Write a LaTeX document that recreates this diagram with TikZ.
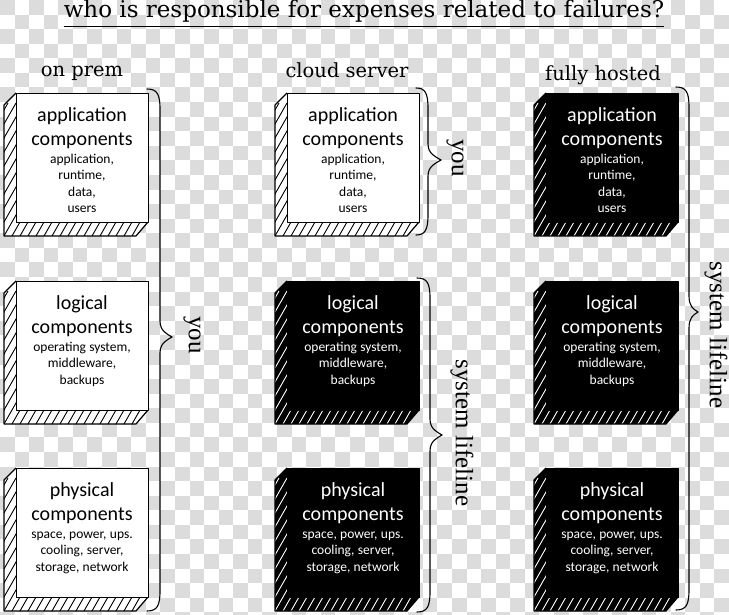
\documentclass[tikz,border=0pt]{standalone}
\usepackage{fontspec}
\newfontfamily\carlito{Carlito}
\newfontfamily\hand{DejaVu Serif}
\newfontfamily\tms{Liberation Serif}
\definecolor{checkgray}{RGB}{220,220,220}
\tikzset{
  boxline/.style={line width=1.2pt, line join=round},
  braceline/.style={line width=1.1pt, line cap=round},
  sidelabel/.style={font=\tms\fontsize{25}{30}\selectfont, rotate=-90, inner sep=0},
  colhead/.style={font=\hand\fontsize{19.5}{24}\selectfont, inner sep=0, anchor=base},
}
\newcommand\nl{\par}
% #1 name, #2 x0, #3 y0, #4 fill, #5 hatch colour, #6 text colour, #7 title, #8 details
\newcommand\compbox[8]{%
  \begin{scope}
    \clip (#2,#3) -- ({#2-12},{#3+12}) -- ({#2-12},{#3+143}) -- ({#2+120},{#3+143}) -- ({#2+132},{#3+129}) -- cycle;
    \fill[#4] ({#2-20},{#3-5}) rectangle ({#2+140},{#3+150});
    \foreach \k in {0,...,34}{\draw[#5, line width=0.9pt] ({#2-120+8*\k},{#3+150}) -- ++(80,-140);}
  \end{scope}
  \draw[boxline] (#2,#3) -- ({#2-12},{#3+12}) -- ({#2-12},{#3+143}) -- ({#2+120},{#3+143}) -- ({#2+132},{#3+129});
  \node[draw, boxline, fill=#4, minimum width=132pt, minimum height=129pt, anchor=north west, inner sep=0] (#1) at (#2,#3) {};
  \node[text=#6, text width=132pt, align=center, inner sep=0, anchor=north, font=\carlito] (#1t) at ({#2+66},{#3+14.5})
    {\fontsize{20}{24}\selectfont #7\par\fontsize{13.5}{16.5}\selectfont\vspace{1pt}#8\par};
}
% #1 xl, #2 xm, #3 xt, #4 ytop, #5 ymid, #6 ybot
\newcommand\bracedraw[6]{%
  \draw[braceline] (#1,#4) .. controls ({#2-3},{#4}) and (#2,{#4+5}) .. (#2,{#4+20})
    -- (#2,{#5-16}) .. controls (#2,{#5-6}) and ({#3-5},{#5-3}) .. (#3,#5)
    .. controls ({#3-5},{#5+3}) and (#2,{#5+6}) .. (#2,{#5+16})
    -- (#2,{#6-20}) .. controls (#2,{#6-5}) and ({#2-3},{#6}) .. (#1,#6);
}
\begin{document}
\begin{tikzpicture}[x=1pt,y=-1pt]
\useasboundingbox (0,0) rectangle (729,615);
% transparency checkerboard
\foreach \i in {0,...,49}{
  \pgfmathtruncatemacro\m{mod(\i,2)}
  \foreach \k in {0,...,21}{
    \fill[checkgray] ({\i*14.58},{(2*\k+\m)*14.58}) rectangle ++(14.58,14.58);
  }
}
% title
\node[font=\hand\fontsize{23}{28}\selectfont, inner sep=0, anchor=base] (title) at (364,18) {who is responsible for expenses related to failures?};
\draw[line width=1pt] ([yshift=-3.5pt]title.south west) -- ([yshift=-3.5pt]title.south east);
% column heads
\node[colhead] (h1) at (82,77) {on prem};
\node[colhead] (h2) at (347,78) {cloud server};
\node[colhead] (h3) at (603,81) {fully hosted};
% boxes
\compbox{a1}{16}{93}{white}{black}{black}{application\nl components}{application,\nl runtime,\nl data,\nl users}
\compbox{l1}{16}{281}{white}{black}{black}{logical\nl components}{operating system,\nl middleware,\nl backups}
\compbox{p1}{16}{468}{white}{black}{black}{physical\nl components}{space, power, ups.\nl cooling, server,\nl storage, network}
\compbox{a2}{287}{93}{white}{black}{black}{application\nl components}{application,\nl runtime,\nl data,\nl users}
\compbox{l2}{287}{281}{black}{white}{white}{logical\nl components}{operating system,\nl middleware,\nl backups}
\compbox{p2}{287}{468}{black}{white}{white}{physical\nl components}{space, power, ups.\nl cooling, server,\nl storage, network}
\compbox{a3}{546}{93}{black}{white}{white}{application\nl components}{application,\nl runtime,\nl data,\nl users}
\compbox{l3}{546}{281}{black}{white}{white}{logical\nl components}{operating system,\nl middleware,\nl backups}
\compbox{p3}{546}{468}{black}{white}{white}{physical\nl components}{space, power, ups.\nl cooling, server,\nl storage, network}
% braces
\bracedraw{147}{160}{172}{89}{337}{611}
\bracedraw{416}{428}{441}{88}{160}{235}
\bracedraw{417}{430}{442}{278}{435}{612}
\bracedraw{676}{689}{698}{87}{312}{610}
% side labels
\node[sidelabel] (you1) at (192,335) {you};
\node[sidelabel] (you2) at (455,158) {you};
\node[sidelabel] (sys2) at (462,433) {system lifeline};
\node[sidelabel] (sys3) at (716,335) {system lifeline};
\end{tikzpicture}
\end{document}
